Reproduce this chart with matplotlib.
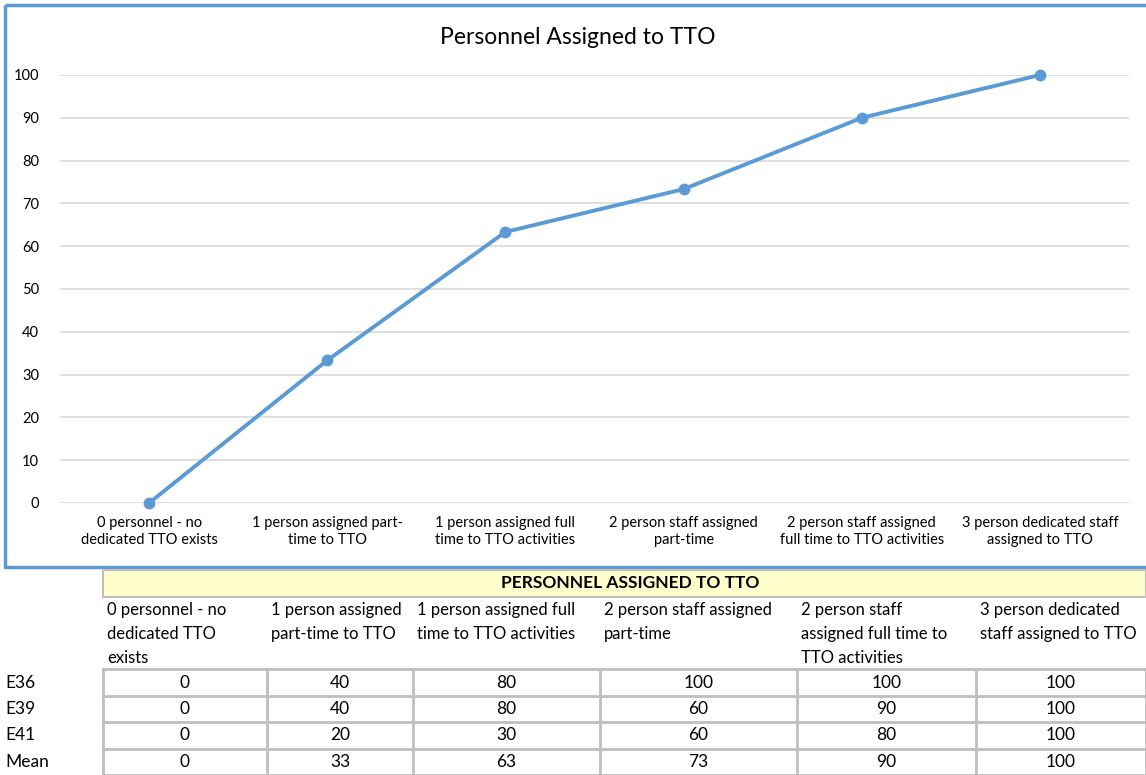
import numpy as np
import matplotlib.pyplot as plt
from matplotlib.patches import Rectangle
from matplotlib.lines import Line2D

plt.rcParams['font.family'] = ['Lato', 'DejaVu Sans']

categories = ['0 personnel - no\ndedicated TTO exists',
              '1 person assigned part-\ntime to TTO',
              '1 person assigned full\ntime to TTO activities',
              '2 person staff assigned\npart-time',
              '2 person staff assigned\nfull time to TTO activities',
              '3 person dedicated staff\nassigned to TTO']
table_headers = ['0 personnel - no\ndedicated TTO\nexists',
                 '1 person assigned\npart-time to TTO',
                 '1 person assigned full\ntime to TTO activities',
                 '2 person staff assigned\npart-time',
                 '2 person staff\nassigned full time to\nTTO activities',
                 '3 person dedicated\nstaff assigned to TTO']
row_names = ['E36', 'E39', 'E41']
e36 = [0, 40, 80, 100, 100, 100]
e39 = [0, 40, 80, 60, 90, 100]
e41 = [0, 20, 30, 60, 80, 100]
mean = np.mean([e36, e39, e41], axis=0)

W, H = 1146, 775
blue = '#5B9BD5'
grid = '#D9D9D9'
cellgrid = '#BFBFBF'

fig = plt.figure(figsize=(W / 100, H / 100), dpi=100)

# overlay in pixel coords for the frame and the table
ov = fig.add_axes([0, 0, 1, 1])
ov.set_xlim(0, W)
ov.set_ylim(H, 0)
ov.axis('off')

ov.add_patch(Rectangle((5, 5), W, 562, fill=False, edgecolor=blue, lw=2.5))

# chart
ax = fig.add_axes([60 / W, 1 - 503 / H, (1129 - 60) / W, (503 - 75) / H])
x = np.arange(len(categories))
ax.plot(x, mean, color=blue, lw=2.8, marker='o', ms=7.5, clip_on=False, zorder=3)
ax.set_xlim(-0.5, len(categories) - 0.5)
ax.set_ylim(0, 100)
ax.set_yticks(range(0, 101, 10))
ax.yaxis.grid(True, color=grid, lw=1.2)
ax.set_axisbelow(True)
for s in ax.spines.values():
    s.set_visible(False)
ax.tick_params(length=0, labelsize=10.5, colors='black')
ax.tick_params(axis='y', pad=15)
ax.tick_params(axis='x', pad=9)
ax.set_xticks(x)
ax.set_xticklabels(categories, linespacing=1.35)
ax.patch.set_alpha(0)
fig.text(578 / W, 1 - 37 / H, 'Personnel Assigned to TTO', ha='center', va='center', fontsize=16.5)

# table
col_edges = [103, 267, 413, 600, 797, 976, 1146]
row_edges = [669, 696, 722, 749, 775]
ov.add_patch(Rectangle((103, 570), 1146 - 103, 27, facecolor='#FFFFCC',
                       edgecolor=cellgrid, lw=1.5))
ov.text(630, 583.5, 'PERSONNEL ASSIGNED TO TTO', ha='center', va='center',
        fontsize=12.5, fontweight='bold')
for i, h in enumerate(table_headers):
    for j, line in enumerate(h.split('\n')):
        ov.text(col_edges[i] + 4, 610 + j * 24, line, ha='left', va='center', fontsize=12, zorder=1)

rows = [e36, e39, e41, np.round(mean).astype(int)]
names = row_names + ['Mean']
ov.add_patch(Rectangle((col_edges[0], row_edges[0]), col_edges[-1] - col_edges[0],
                       row_edges[-1] - row_edges[0], facecolor='white', edgecolor='none', zorder=2))
for r in range(len(rows)):
    yc = (row_edges[r] + row_edges[r + 1]) / 2
    ov.text(5, yc, names[r], ha='left', va='center', fontsize=12.5, zorder=3)
    for c in range(len(col_edges) - 1):
        xc = (col_edges[c] + col_edges[c + 1]) / 2
        ov.text(xc, yc, str(rows[r][c]), ha='center', va='center', fontsize=12.5, zorder=3)
for yy in row_edges:
    ov.add_line(Line2D([col_edges[0], col_edges[-1]], [yy, yy], color=cellgrid, lw=2, zorder=3))
for xx in col_edges:
    ov.add_line(Line2D([xx, xx], [row_edges[0], row_edges[-1]], color=cellgrid, lw=2, zorder=3))

fig.savefig('out.png', dpi=100)
